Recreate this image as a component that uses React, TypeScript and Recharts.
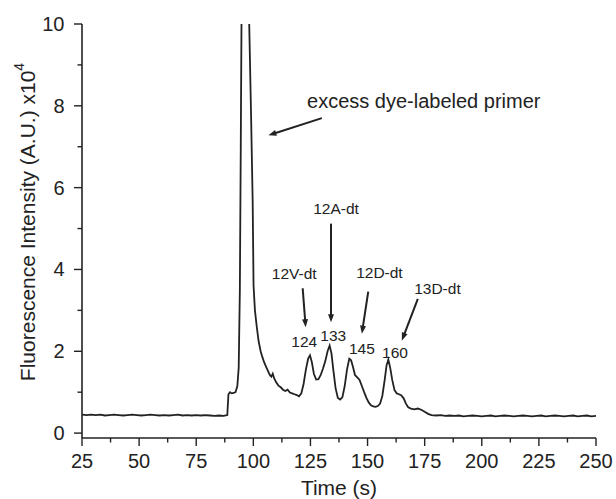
import React from 'react';
import {
    LineChart,
    Line,
    XAxis,
    YAxis,
    ReferenceLine,
    ReferenceDot
} from 'recharts';

// trace pieces, [time (s), intensity (x10^4 A.U.)]
const leadBaseline: [number, number][] = [
    [25, 0.45], [27, 0.44], [29, 0.45], [31, 0.44], [33, 0.45], [35, 0.43], [37, 0.44], [39, 0.45],
    [41, 0.44], [43, 0.43], [45, 0.44], [47, 0.45], [49, 0.44], [51, 0.43], [53, 0.44], [55, 0.45],
    [57, 0.44], [59, 0.43], [61, 0.44], [63, 0.43], [65, 0.44], [67, 0.45], [69, 0.43], [71, 0.44],
    [73, 0.43], [75, 0.44], [77, 0.43], [79, 0.44], [81, 0.43], [83, 0.42], [85, 0.43], [87, 0.42],
    [88.6, 0.44]
];

const primerPeak: [number, number][] = [
    [89.1, 0.95], [89.8, 1.0], [90.6, 0.97], [91.4, 0.98], [92.2, 1.0], [93.0, 1.15], [93.6, 1.6],
    [94.1, 3.5], [94.5, 7.0], [94.9, 10.8], [95.6, 14.5], [96.6, 16.0], [97.6, 13.0], [98.2, 10.0],
    [99.0, 7.8], [99.7, 5.7], [100.1, 3.6], [100.7, 3.0], [101.5, 2.6], [102.3, 2.25], [103.2, 2.0],
    [104.0, 1.85], [104.8, 1.72], [105.6, 1.62], [106.4, 1.52], [107.2, 1.42], [107.9, 1.38],
    [108.5, 1.45], [109.2, 1.33], [110, 1.24], [111, 1.16], [112, 1.12], [113, 1.06], [114, 1.03],
    [115, 1.06], [116, 0.99], [117, 0.97], [118, 0.95], [119, 0.93], [120, 0.9]
];

const productPeaks: [number, number][] = [
    [121, 0.97], [122, 1.2], [123, 1.55], [124, 1.82], [124.8, 1.9], [125.6, 1.74], [126.5, 1.45],
    [127.5, 1.31], [128.5, 1.32], [129.5, 1.42], [130.5, 1.58], [131.5, 1.76], [132.5, 2.0],
    [133.4, 2.14], [134.2, 1.95], [135, 1.55], [136, 1.1], [137, 0.86], [138, 0.82], [139, 0.88],
    [140, 1.15], [141, 1.55], [142, 1.82], [142.8, 1.78], [143.6, 1.62], [144.5, 1.42], [145.5, 1.36],
    [146.5, 1.3], [147.5, 1.15], [148.5, 1.0], [149.5, 0.86], [150.5, 0.75], [151.5, 0.68],
    [152.5, 0.65], [153.5, 0.64], [154.5, 0.66], [155.5, 0.72], [156.5, 0.92], [157.5, 1.3],
    [158.3, 1.65], [159.1, 1.8], [159.9, 1.6], [160.8, 1.3], [161.8, 1.05], [162.8, 0.97],
    [163.8, 0.95], [164.8, 0.92], [165.8, 0.85], [166.8, 0.72], [167.8, 0.63], [169, 0.6],
    [170.5, 0.58], [172, 0.6], [173.5, 0.57], [175, 0.52], [176.5, 0.47], [178, 0.44]
];

const tailBaseline: [number, number][] = [
    [180, 0.43], [182, 0.44], [184, 0.42], [186, 0.43], [188, 0.42], [190, 0.43], [192, 0.41],
    [194, 0.42], [196, 0.43], [198, 0.42], [200, 0.41], [202, 0.42], [204, 0.43], [206, 0.41],
    [208, 0.42], [210, 0.43], [212, 0.42], [214, 0.41], [216, 0.42], [218, 0.43], [220, 0.42],
    [222, 0.41], [224, 0.42], [226, 0.43], [228, 0.41], [230, 0.42], [232, 0.43], [234, 0.42],
    [236, 0.41], [238, 0.42], [240, 0.43], [242, 0.41], [244, 0.42], [246, 0.43], [248, 0.41],
    [250, 0.42]
];

const xTicks = [25, 37.5, 50, 62.5, 75, 87.5, 100, 112.5, 125, 137.5, 150, 162.5, 175, 187.5, 200, 212.5, 225, 237.5, 250];
const xLabelled = [25, 50, 75, 100, 125, 150, 175, 200, 225, 250];
const yTicks = [0, 1, 2, 3, 4, 5, 6, 7, 8, 9, 10];
const yLabelled = [0, 2, 4, 6, 8, 10];

// annotation texts and where they sit, in data units
const labels = [
    { text: 'excess dye-labeled primer', t: 123.5, v: 8.12, size: 20, anchor: 'start' },
    { text: '12A-dt', t: 136.2, v: 5.49, size: 15.5, anchor: 'middle' },
    { text: '12V-dt', t: 117.9, v: 3.9, size: 15.5, anchor: 'middle' },
    { text: '12D-dt', t: 155.2, v: 3.93, size: 15.5, anchor: 'middle' },
    { text: '13D-dt', t: 180.6, v: 3.53, size: 15.5, anchor: 'middle' },
    { text: '124', t: 122.3, v: 2.23, size: 15.5, anchor: 'middle' },
    { text: '133', t: 135.0, v: 2.39, size: 15.5, anchor: 'middle' },
    { text: '145', t: 147.5, v: 2.07, size: 15.5, anchor: 'middle' },
    { text: '160', t: 162.0, v: 1.96, size: 15.5, anchor: 'middle' }
];

const arrows = [
    { from: [130, 7.7], to: [106.6, 7.28] },
    { from: [134, 5.12], to: [134, 2.71] },
    { from: [121.6, 3.54], to: [122.9, 2.59] },
    { from: [150.3, 3.46], to: [147.5, 2.43] },
    { from: [172, 3.28], to: [165, 2.26] }
];

const data = [...leadBaseline, ...primerPeak, ...productPeaks, ...tailBaseline].map(([time, value]) => ({ time, value }));

const INK = '#222';
const FONT = '"Liberation Sans", Arial, Helvetica, sans-serif';

const XTick = (props: any) => {
    const { x, y, payload } = props;
    const major = xLabelled.includes(payload.value);
    return (
        <g>
            <line x1={x} y1={y} x2={x} y2={y + (major ? 8 : 4.5)} stroke={INK} strokeWidth={1.4} />
            {major && (
                <text x={x} y={y + 30} textAnchor="middle" fontSize={20} fill={INK} fontFamily={FONT}>
                    {payload.value}
                </text>
            )}
        </g>
    );
};

const YTick = (props: any) => {
    const { x, y, payload } = props;
    const major = yLabelled.includes(payload.value);
    return (
        <g>
            <line x1={x} y1={y} x2={x - (major ? 8 : 4.5)} y2={y} stroke={INK} strokeWidth={1.4} />
            {major && (
                <text x={x - 17.5} y={y + 7} textAnchor="end" fontSize={20} fill={INK} fontFamily={FONT}>
                    {payload.value}
                </text>
            )}
        </g>
    );
};

const YTitle = (props: any) => {
    const vb = props.viewBox;
    const cx = vb.x + 5;
    const cy = vb.y + vb.height / 2 - 9;
    return (
        <text
            x={cx}
            y={cy}
            transform={`rotate(-90, ${cx}, ${cy})`}
            textAnchor="middle"
            dominantBaseline="central"
            fontSize={21}
            fill={INK}
            fontFamily={FONT}
        >
            Fluorescence Intensity (A.U.) x10
            <tspan fontSize={14} dy={-8}>4</tspan>
        </text>
    );
};

const XTitle = (props: any) => {
    const vb = props.viewBox;
    return (
        <text x={vb.x + vb.width / 2} y={vb.y + 57} textAnchor="middle" fontSize={21} fill={INK} fontFamily={FONT}>
            Time (s)
        </text>
    );
};

const Arrow = (props: any) => {
    const { x1, y1, x2, y2 } = props;
    const dx = x2 - x1;
    const dy = y2 - y1;
    const len = Math.sqrt(dx * dx + dy * dy) || 1;
    const ux = dx / len;
    const uy = dy / len;
    const head = 8;
    const half = 3;
    const bx = x2 - ux * head;
    const by = y2 - uy * head;
    return (
        <g>
            <line x1={x1} y1={y1} x2={bx + ux * 2} y2={by + uy * 2} stroke={INK} strokeWidth={2} />
            <polygon
                points={`${x2},${y2} ${bx - uy * half},${by + ux * half} ${bx + uy * half},${by - ux * half}`}
                fill={INK}
            />
        </g>
    );
};

export default function App() {
    return (
        <div style={{ position: 'absolute', left: 0, top: 0, background: '#fff' }}>
            <LineChart
                width={616}
                height={499}
                data={data}
                margin={{ top: 24, right: 20, left: 22, bottom: 11 }}
                style={{ fontFamily: FONT }}
            >
                <XAxis
                    dataKey="time"
                    type="number"
                    domain={[25, 250]}
                    ticks={xTicks}
                    interval={0}
                    tick={XTick}
                    tickLine={false}
                    tickSize={0}
                    tickMargin={0}
                    height={50}
                    axisLine={{ stroke: INK, strokeWidth: 1.6 }}
                    label={XTitle}
                />
                <YAxis
                    type="number"
                    domain={[-0.12, 10]}
                    allowDataOverflow
                    ticks={yTicks}
                    interval={0}
                    tick={YTick}
                    tickLine={false}
                    tickSize={0}
                    tickMargin={0}
                    width={60}
                    axisLine={{ stroke: INK, strokeWidth: 1.6 }}
                    label={YTitle}
                />
                <Line
                    type="linear"
                    dataKey="value"
                    stroke={INK}
                    strokeWidth={1.8}
                    dot={false}
                    activeDot={false}
                    isAnimationActive={false}
                />
                {arrows.map((a, i) => (
                    <ReferenceLine
                        key={`arrow-${i}`}
                        segment={[{ x: a.from[0], y: a.from[1] }, { x: a.to[0], y: a.to[1] }]}
                        ifOverflow="visible"
                        shape={Arrow}
                    />
                ))}
                {labels.map((l, i) => (
                    <ReferenceDot
                        key={`label-${i}`}
                        x={l.t}
                        y={l.v}
                        r={0}
                        ifOverflow="visible"
                        shape={(p: any) => (
                            <text
                                x={p.cx}
                                y={p.cy}
                                textAnchor={l.anchor as any}
                                dominantBaseline="central"
                                fontSize={l.size}
                                fill={INK}
                                fontFamily={FONT}
                            >
                                {l.text}
                            </text>
                        )}
                    />
                ))}
            </LineChart>
        </div>
    );
}
